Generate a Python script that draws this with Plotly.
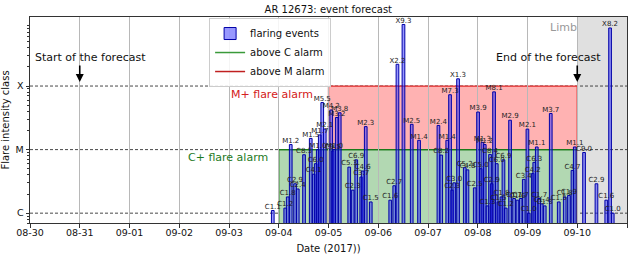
import numpy as np
import pandas as pd
import plotly.graph_objects as go

# ---------------- data ----------------
flare_times = [
    "2017-09-03 21:07", "2017-09-04 03:08", "2017-09-04 04:20", "2017-09-04 05:47",
    "2017-09-04 07:52", "2017-09-04 09:10", "2017-09-04 12:12", "2017-09-04 15:26",
    "2017-09-04 16:53", "2017-09-04 17:51", "2017-09-04 18:49", "2017-09-04 19:47",
    "2017-09-04 20:59", "2017-09-04 22:11", "2017-09-05 01:19", "2017-09-05 02:00",
    "2017-09-05 02:47", "2017-09-05 03:59", "2017-09-05 05:25", "2017-09-05 10:00",
    "2017-09-05 11:41", "2017-09-05 13:23", "2017-09-05 15:48", "2017-09-05 16:31",
    "2017-09-05 17:58", "2017-09-05 20:23", "2017-09-06 05:47", "2017-09-06 07:43",
    "2017-09-06 09:16", "2017-09-06 12:10", "2017-09-06 16:09", "2017-09-06 19:41",
    "2017-09-07 05:02", "2017-09-07 06:23", "2017-09-07 09:17", "2017-09-07 10:38",
    "2017-09-07 11:41", "2017-09-07 12:40", "2017-09-07 14:30", "2017-09-07 17:44",
    "2017-09-07 19:02", "2017-09-07 22:33", "2017-09-08 00:09", "2017-09-08 01:26",
    "2017-09-08 02:15", "2017-09-08 03:22", "2017-09-08 04:41", "2017-09-08 05:56",
    "2017-09-08 06:45", "2017-09-08 07:52", "2017-09-08 09:10", "2017-09-08 09:59",
    "2017-09-08 11:26", "2017-09-08 12:24", "2017-09-08 13:30", "2017-09-08 15:35",
    "2017-09-08 17:31", "2017-09-08 19:09", "2017-09-08 20:45", "2017-09-08 22:12",
    "2017-09-08 23:58", "2017-09-09 00:36", "2017-09-09 02:32", "2017-09-09 03:16",
    "2017-09-09 04:28", "2017-09-09 05:40", "2017-09-09 06:52", "2017-09-09 08:19",
    "2017-09-09 11:13", "2017-09-09 15:04", "2017-09-09 17:58", "2017-09-09 20:00",
    "2017-09-09 21:42", "2017-09-09 22:48", "2017-09-10 03:17", "2017-09-10 09:16",
    "2017-09-10 14:00", "2017-09-10 15:50", "2017-09-10 17:07",
]
flare_classes = [
    "C1.1", "C1.2", "C1.8", "M1.2",
    "C2.9", "C2.4", "C8.3", "M1.5",
    "C4.1", "C6.0", "M1.0", "M1.7",
    "M5.5", "M2.1", "M4.2", "C9.5",
    "M1.0", "M3.2", "M3.8", "C5.3",
    "C2.3", "C6.9", "C3.7", "C4.6",
    "M2.3", "C1.5", "C1.6", "C2.7",
    "X2.2", "X9.3", "M2.5", "M1.4",
    "M2.4", "C8.2", "M1.4", "M7.3",
    "C2.3", "C3.0", "X1.3", "C5.2",
    "C4.8", "C2.5", "M3.9", "C5.0",
    "M1.3", "M1.2", "C1.3", "C8.4",
    "C2.9", "M8.1", "C6.0", "C1.5",
    "C1.8", "C6.9", "C1.2", "M2.9",
    "C1.7", "C1.6", "C1.7", "C3.4",
    "M2.1", "C1.0", "C4.2", "C6.3",
    "M1.1", "C1.7", "C1.4", "C1.3",
    "M3.7", "C1.5", "C1.8", "C1.9",
    "C4.7", "M1.1", "C9.0", "C2.9",
    "C1.6", "X8.2", "C1.0",
]

class_letters = ["C", "M", "X"]
class_levels = [1e-6, 1e-5, 1e-4]          # W/m^2 for C, M, X
y_limits = [7.0e-7, 1.22e-3]
x_limits = ["2017-08-30", "2017-09-11"]

c_alarm = ["2017-09-04", "2017-09-10"]
m_alarm = ["2017-09-05", "2017-09-10"]
limb_zone = ["2017-09-10", "2017-09-11"]
forecast_start = "2017-08-31"
forecast_end = "2017-09-10"

# ---------------- derived ----------------
scale = dict(zip(class_letters, class_levels))
flux = [scale[c[0]] * float(c[1:]) for c in flare_classes]
times = pd.to_datetime(flare_times)

FONT = "DejaVu Sans"
BAR_WIDTH_MS = 1.3 * 3600 * 1000
bar_base = y_limits[0] / 10

C_LVL, M_LVL, X_LVL = class_levels
ylog = [np.log10(v) for v in y_limits]
minor_vals = [k * 10.0 ** e for e in range(-7, -2) for k in range(2, 10)
              if y_limits[0] <= k * 10.0 ** e <= y_limits[1]]

fig = go.Figure()

fig.add_trace(go.Bar(
    x=times, y=[f - bar_base for f in flux], base=bar_base,
    width=BAR_WIDTH_MS,
    marker=dict(color="rgba(50,50,255,0.5)", line=dict(color="#0000a8", width=1)),
    name="flaring events", showlegend=True,
))
fig.add_trace(go.Scatter(
    x=times, y=flux, mode="text", text=flare_classes,
    textposition="top center",
    textfont=dict(family=FONT, size=7, color="#222222"),
    showlegend=False, hoverinfo="skip", cliponaxis=False,
))
fig.add_trace(go.Scatter(x=[None], y=[None], mode="lines",
                         line=dict(color="#3a9a3a", width=1.5),
                         name="above C alarm"))
fig.add_trace(go.Scatter(x=[None], y=[None], mode="lines",
                         line=dict(color="#c02020", width=1.5),
                         name="above M alarm"))

shapes = []
# limb shading
shapes.append(dict(type="rect", xref="x", yref="paper", x0=limb_zone[0], x1=limb_zone[1],
                   y0=0, y1=1, fillcolor="rgb(224,224,224)", line=dict(width=0), layer="below"))
# C alarm (green)
shapes.append(dict(type="rect", xref="x", yref="y", x0=c_alarm[0], x1=c_alarm[1],
                   y0=bar_base, y1=M_LVL, fillcolor="rgb(178,216,178)",
                   line=dict(color="#1a7a1a", width=1.3), layer="below"))
# M alarm (red)
shapes.append(dict(type="rect", xref="x", yref="y", x0=m_alarm[0], x1=m_alarm[1],
                   y0=M_LVL, y1=X_LVL, fillcolor="rgb(255,178,178)",
                   line=dict(width=0), layer="below"))
for xv in m_alarm:
    shapes.append(dict(type="line", xref="x", yref="y", x0=xv, x1=xv,
                       y0=bar_base, y1=X_LVL, line=dict(color="#e02828", width=1.3),
                       layer="below"))
shapes.append(dict(type="line", xref="x", yref="y", x0=m_alarm[0], x1=m_alarm[1],
                   y0=X_LVL, y1=X_LVL, line=dict(color="#e02828", width=1.3), layer="below"))
shapes.append(dict(type="line", xref="x", yref="y", x0=c_alarm[0], x1=c_alarm[1],
                   y0=M_LVL, y1=M_LVL, line=dict(color="#1a7a1a", width=1.3), layer="below"))
# dashed class levels
for lv in class_levels:
    shapes.append(dict(type="line", xref="paper", yref="y", x0=0, x1=1, y0=lv, y1=lv,
                       line=dict(color="#333333", width=0.9, dash="3px,2px"), layer="below"))

annotations = [
    dict(text="M+ flare alarm", xref="x", yref="y", x=m_alarm[0], y=np.log10(X_LVL),
         xanchor="right", yanchor="top", xshift=-14, yshift=0, showarrow=False,
         font=dict(family=FONT, size=11, color="#d42020")),
    dict(text="C+ flare alarm", xref="x", yref="y", x=c_alarm[0], y=np.log10(M_LVL),
         xanchor="right", yanchor="top", xshift=-9, yshift=1, showarrow=False,
         font=dict(family=FONT, size=11, color="#1e7a1e")),
    dict(text="Limb", xref="x", yref="paper", x=limb_zone[0], y=1,
         xanchor="right", yanchor="top", xshift=2, yshift=-2, showarrow=False,
         font=dict(family=FONT, size=11, color="#999999")),
    dict(text="Start of the forecast", xref="x", yref="y", x=forecast_start, y=np.log10(X_LVL),
         xanchor="center", yanchor="middle", xshift=11, yshift=29, showarrow=False,
         font=dict(family=FONT, size=11, color="#111111")),
    dict(text="End of the forecast", xref="x", yref="y", x=forecast_end, y=np.log10(X_LVL),
         xanchor="center", yanchor="middle", xshift=-29, yshift=29, showarrow=False,
         font=dict(family=FONT, size=11, color="#111111")),
]
for xv in [forecast_start, forecast_end]:
    annotations.append(dict(text="", xref="x", yref="y", x=xv, y=np.log10(X_LVL),
                            yshift=4, ax=0, ay=-18, showarrow=True, arrowhead=2,
                            arrowsize=1, arrowwidth=1.6, arrowcolor="#000000"))

fig.update_layout(
    width=640, height=254,
    margin=dict(l=30, r=13, t=17, b=31, autoexpand=False),
    paper_bgcolor="white", plot_bgcolor="white",
    font=dict(family=FONT, size=10, color="#111111"),
    title=dict(text="AR 12673: event forecast", x=0.513, xanchor="center",
               y=1 - 9 / 254, yanchor="middle", font=dict(family=FONT, size=10)),
    barmode="overlay",
    shapes=shapes,
    annotations=annotations,
    legend=dict(x=0.30, y=0.995, xanchor="left", yanchor="top",
                bgcolor="rgba(255,255,255,0.85)", bordercolor="#cccccc", borderwidth=1,
                font=dict(family=FONT, size=10, color="#111111"), itemwidth=30),
    xaxis=dict(type="date", range=x_limits, tickformat="%m-%d", dtick=86400000,
               tick0=x_limits[0], ticks="outside", ticklen=3.5, tickcolor="#333333",
               ticklabelstandoff=-3,
               showgrid=True, gridcolor="#b8b8b8", gridwidth=1, automargin=False,
               showline=True, mirror=True, linecolor="#333333", linewidth=1,
               tickfont=dict(family=FONT, size=9.5, color="#111111"),
               title=dict(text="Date (2017))", font=dict(family=FONT, size=10))),
    yaxis=dict(type="log", range=ylog, tickmode="array", tickvals=class_levels,
               ticktext=class_letters, ticks="outside", ticklen=3.5, tickcolor="#333333",
               showgrid=False, zeroline=False, automargin=False,
               showline=True, mirror=True, linecolor="#333333", linewidth=1,
               minor=dict(tickmode="array", tickvals=minor_vals, ticks="outside",
                          ticklen=2, tickcolor="#333333", showgrid=False),
               tickfont=dict(family=FONT, size=9.5, color="#111111"),
               title=dict(text="Flare intensity class", font=dict(family=FONT, size=10))),
)

fig.write_html("out.html", config={"displayModeBar": False},
               post_script="document.body.style.margin='0px';")
